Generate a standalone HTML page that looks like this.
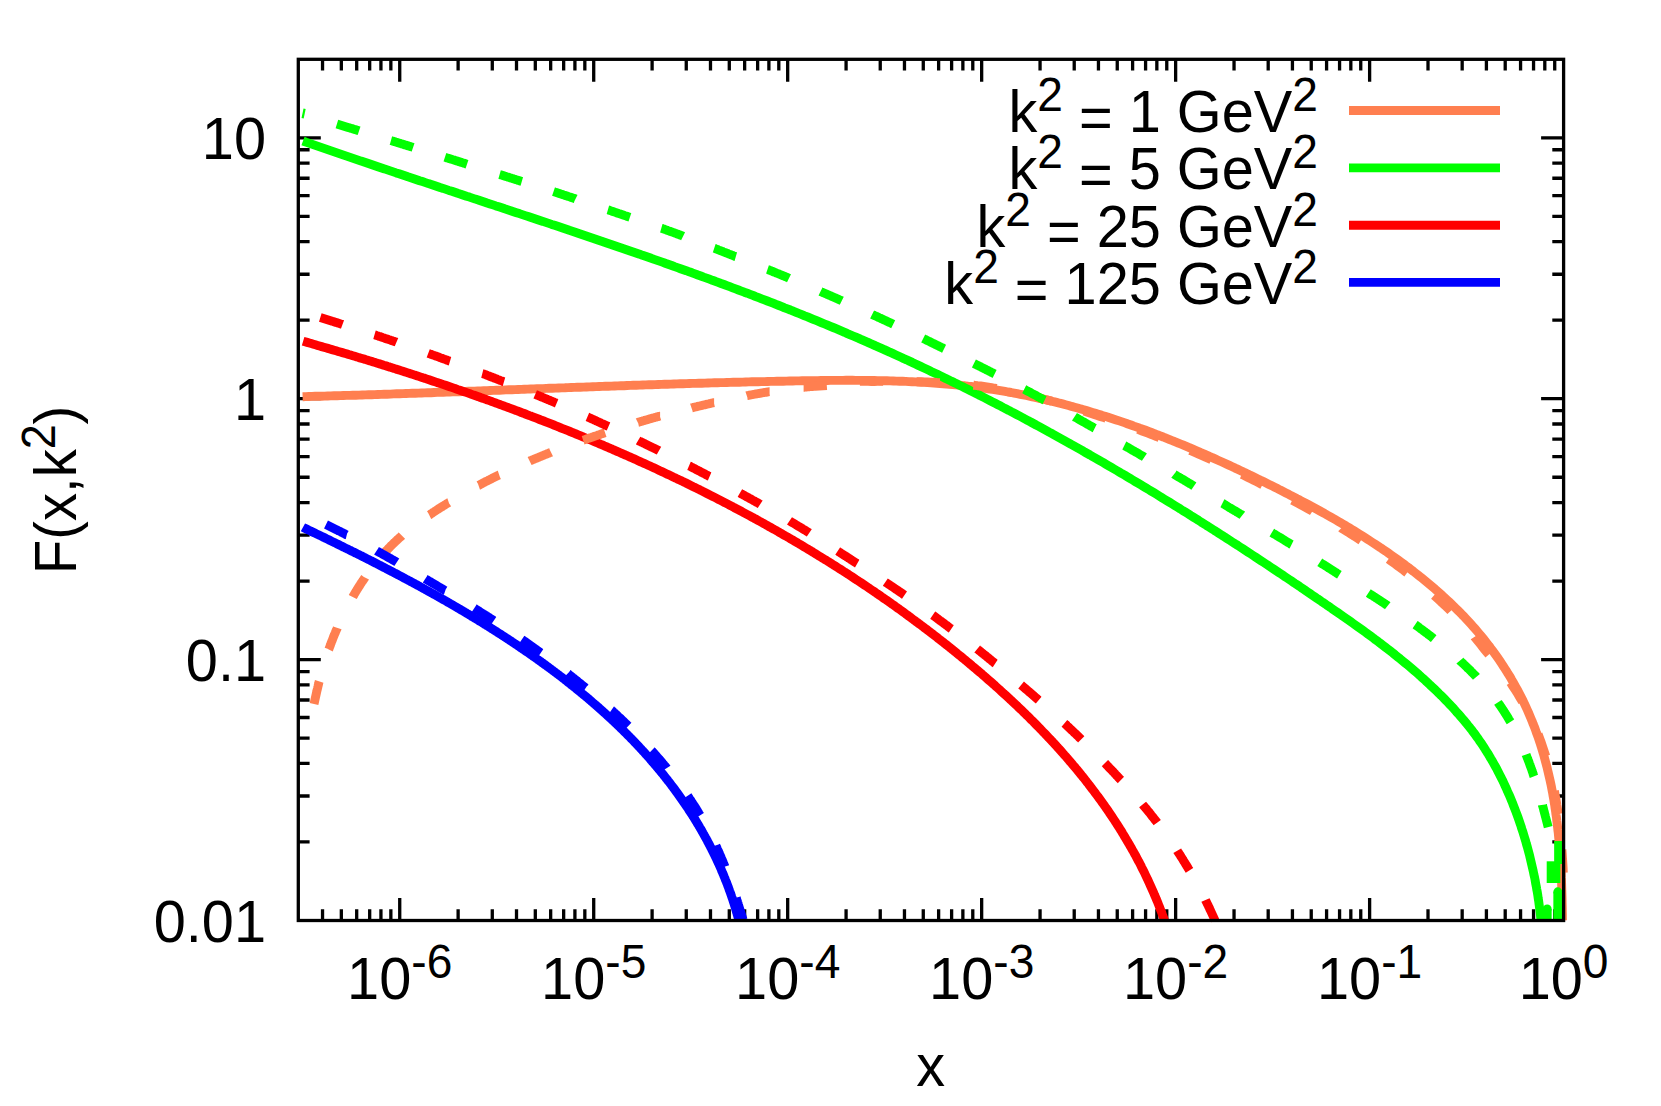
<!DOCTYPE html>
<html lang="en"><head><meta charset="utf-8"><title>F(x,k2)</title>
<style>html,body{margin:0;padding:0;background:#fff}svg{display:block}</style></head>
<body>
<svg width="1661" height="1106" viewBox="0 0 1661 1106">
<rect width="1661" height="1106" fill="#fff"/>
<path d="M322.54 920.50v-11.3M322.54 59.30v11.3M341.33 920.50v-11.3M341.33 59.30v11.3M356.69 920.50v-11.3M356.69 59.30v11.3M369.68 920.50v-11.3M369.68 59.30v11.3M380.93 920.50v-11.3M380.93 59.30v11.3M390.85 920.50v-11.3M390.85 59.30v11.3M399.73 920.50v-22.5M399.73 59.30v22.5M458.12 920.50v-11.3M458.12 59.30v11.3M492.28 920.50v-11.3M492.28 59.30v11.3M516.51 920.50v-11.3M516.51 59.30v11.3M535.31 920.50v-11.3M535.31 59.30v11.3M550.67 920.50v-11.3M550.67 59.30v11.3M563.66 920.50v-11.3M563.66 59.30v11.3M574.91 920.50v-11.3M574.91 59.30v11.3M584.83 920.50v-11.3M584.83 59.30v11.3M593.71 920.50v-22.5M593.71 59.30v22.5M652.10 920.50v-11.3M652.10 59.30v11.3M686.26 920.50v-11.3M686.26 59.30v11.3M710.49 920.50v-11.3M710.49 59.30v11.3M729.29 920.50v-11.3M729.29 59.30v11.3M744.65 920.50v-11.3M744.65 59.30v11.3M757.64 920.50v-11.3M757.64 59.30v11.3M768.89 920.50v-11.3M768.89 59.30v11.3M778.81 920.50v-11.3M778.81 59.30v11.3M787.68 920.50v-22.5M787.68 59.30v22.5M846.08 920.50v-11.3M846.08 59.30v11.3M880.24 920.50v-11.3M880.24 59.30v11.3M904.47 920.50v-11.3M904.47 59.30v11.3M923.27 920.50v-11.3M923.27 59.30v11.3M938.63 920.50v-11.3M938.63 59.30v11.3M951.62 920.50v-11.3M951.62 59.30v11.3M962.87 920.50v-11.3M962.87 59.30v11.3M972.79 920.50v-11.3M972.79 59.30v11.3M981.66 920.50v-22.5M981.66 59.30v22.5M1040.06 920.50v-11.3M1040.06 59.30v11.3M1074.22 920.50v-11.3M1074.22 59.30v11.3M1098.45 920.50v-11.3M1098.45 59.30v11.3M1117.25 920.50v-11.3M1117.25 59.30v11.3M1132.61 920.50v-11.3M1132.61 59.30v11.3M1145.59 920.50v-11.3M1145.59 59.30v11.3M1156.84 920.50v-11.3M1156.84 59.30v11.3M1166.77 920.50v-11.3M1166.77 59.30v11.3M1175.64 920.50v-22.5M1175.64 59.30v22.5M1234.04 920.50v-11.3M1234.04 59.30v11.3M1268.19 920.50v-11.3M1268.19 59.30v11.3M1292.43 920.50v-11.3M1292.43 59.30v11.3M1311.23 920.50v-11.3M1311.23 59.30v11.3M1326.59 920.50v-11.3M1326.59 59.30v11.3M1339.57 920.50v-11.3M1339.57 59.30v11.3M1350.82 920.50v-11.3M1350.82 59.30v11.3M1360.75 920.50v-11.3M1360.75 59.30v11.3M1369.62 920.50v-22.5M1369.62 59.30v22.5M1428.01 920.50v-11.3M1428.01 59.30v11.3M1462.17 920.50v-11.3M1462.17 59.30v11.3M1486.41 920.50v-11.3M1486.41 59.30v11.3M1505.21 920.50v-11.3M1505.21 59.30v11.3M1520.57 920.50v-11.3M1520.57 59.30v11.3M1533.55 920.50v-11.3M1533.55 59.30v11.3M1544.80 920.50v-11.3M1544.80 59.30v11.3M1554.72 920.50v-11.3M1554.72 59.30v11.3M298.30 841.96h11.3M1563.60 841.96h-11.3M298.30 796.02h11.3M1563.60 796.02h-11.3M298.30 763.43h11.3M1563.60 763.43h-11.3M298.30 738.15h11.3M1563.60 738.15h-11.3M298.30 717.49h11.3M1563.60 717.49h-11.3M298.30 700.02h11.3M1563.60 700.02h-11.3M298.30 684.89h11.3M1563.60 684.89h-11.3M298.30 671.55h11.3M1563.60 671.55h-11.3M298.30 659.61h22.5M1563.60 659.61h-22.5M298.30 581.08h11.3M1563.60 581.08h-11.3M298.30 535.14h11.3M1563.60 535.14h-11.3M298.30 502.54h11.3M1563.60 502.54h-11.3M298.30 477.26h11.3M1563.60 477.26h-11.3M298.30 456.60h11.3M1563.60 456.60h-11.3M298.30 439.14h11.3M1563.60 439.14h-11.3M298.30 424.01h11.3M1563.60 424.01h-11.3M298.30 410.66h11.3M1563.60 410.66h-11.3M298.30 398.72h22.5M1563.60 398.72h-22.5M298.30 320.19h11.3M1563.60 320.19h-11.3M298.30 274.25h11.3M1563.60 274.25h-11.3M298.30 241.65h11.3M1563.60 241.65h-11.3M298.30 216.37h11.3M1563.60 216.37h-11.3M298.30 195.71h11.3M1563.60 195.71h-11.3M298.30 178.25h11.3M1563.60 178.25h-11.3M298.30 163.12h11.3M1563.60 163.12h-11.3M298.30 149.77h11.3M1563.60 149.77h-11.3M298.30 137.84h22.5M1563.60 137.84h-22.5" stroke="#000" stroke-width="3.3" fill="none"/>
<g fill="none" stroke-width="8.9" stroke-linejoin="round">
<path d="M302.6 396.7L305.7 396.6L308.8 396.5L312.0 396.4L315.1 396.3L318.3 396.3L321.4 396.2L324.6 396.1L327.7 396.0L330.8 395.9L334.0 395.8L337.1 395.7L340.3 395.6L343.4 395.5L346.5 395.4L349.7 395.4L352.8 395.3L355.9 395.2L359.1 395.1L362.2 395.0L365.3 394.9L368.5 394.8L371.6 394.7L374.7 394.6L377.8 394.5L381.0 394.4L384.1 394.3L387.2 394.2L390.4 394.1L393.5 393.9L396.6 393.8L399.7 393.7L402.9 393.6L406.0 393.5L409.1 393.4L412.2 393.3L415.4 393.2L418.5 393.1L421.6 393.0L424.7 392.9L427.8 392.8L431.0 392.7L434.1 392.5L437.2 392.4L440.3 392.3L443.4 392.2L446.6 392.1L449.7 392.0L452.8 391.9L455.9 391.8L459.0 391.7L462.1 391.5L465.3 391.4L468.4 391.3L471.5 391.2L474.6 391.1L477.7 391.0L480.8 390.9L483.9 390.7L487.1 390.6L490.2 390.5L493.3 390.4L496.4 390.3L499.5 390.2L502.6 390.1L505.7 389.9L508.8 389.8L512.0 389.7L515.1 389.6L518.2 389.5L521.3 389.4L524.4 389.2L527.5 389.1L530.6 389.0L533.7 388.9L536.9 388.8L540.0 388.7L543.1 388.6L546.2 388.4L549.3 388.3L552.4 388.2L555.5 388.1L558.6 388.0L561.7 387.9L564.9 387.8L568.0 387.6L571.1 387.5L574.2 387.4L577.3 387.3L580.4 387.2L583.5 387.1L586.6 387.0L589.7 386.9L592.9 386.7L596.0 386.6L599.1 386.5L602.2 386.4L605.3 386.3L608.4 386.2L611.5 386.1L614.6 386.0L617.8 385.9L620.9 385.8L624.0 385.7L627.1 385.5L630.2 385.4L633.3 385.3L636.4 385.2L639.5 385.1L642.7 385.0L645.8 384.9L648.9 384.8L652.0 384.7L655.1 384.6L658.2 384.5L661.4 384.4L664.5 384.3L667.6 384.2L670.7 384.1L673.8 384.0L676.9 383.9L680.1 383.8L683.2 383.7L686.3 383.6L689.4 383.5L692.5 383.4L695.7 383.4L698.8 383.3L701.9 383.2L705.0 383.1L708.1 383.0L711.3 382.9L714.4 382.8L717.5 382.7L720.6 382.6L723.8 382.6L726.9 382.5L730.0 382.4L733.2 382.3L736.3 382.2L739.4 382.2L742.5 382.1L745.7 382.0L748.8 381.9L751.9 381.8L755.1 381.8L758.2 381.7L761.3 381.6L764.5 381.6L767.6 381.5L770.7 381.4L773.9 381.4L777.0 381.3L780.1 381.2L783.3 381.2L786.4 381.1L789.5 381.0L792.7 381.0L795.8 380.9L799.0 380.9L802.1 380.8L805.3 380.7L808.4 380.7L811.5 380.6L814.7 380.6L817.8 380.6L821.0 380.5L824.1 380.5L827.3 380.5L830.4 380.4L833.6 380.4L836.7 380.4L839.8 380.4L843.0 380.4L846.1 380.3L849.3 380.3L852.4 380.3L855.6 380.4L858.7 380.4L861.9 380.4L865.0 380.4L868.1 380.5L871.3 380.5L874.4 380.5L877.6 380.6L880.7 380.7L883.8 380.7L887.0 380.8L890.1 380.9L893.3 381.0L896.4 381.1L899.5 381.2L902.7 381.3L905.8 381.4L908.9 381.6L912.0 381.7L915.2 381.9L918.3 382.0L921.4 382.2L924.5 382.4L927.7 382.6L930.8 382.8L933.9 383.0L937.0 383.2L940.1 383.5L943.2 383.7L946.3 384.0L949.4 384.2L952.6 384.5L955.7 384.8L958.8 385.1L961.9 385.5L964.9 385.8L968.0 386.2L971.1 386.5L974.2 386.9L977.3 387.3L980.4 387.7L983.5 388.1L986.6 388.5L989.6 389.0L992.7 389.4L995.8 389.9L998.8 390.4L1001.9 390.9L1005.0 391.4L1008.0 392.0L1011.1 392.5L1014.1 393.1L1017.2 393.7L1020.2 394.3L1023.3 394.9L1026.3 395.5L1029.3 396.1L1032.4 396.8L1035.4 397.4L1038.4 398.1L1041.5 398.8L1044.5 399.5L1047.5 400.2L1050.5 400.9L1053.6 401.7L1056.6 402.4L1059.6 403.2L1062.6 403.9L1065.6 404.7L1068.6 405.5L1071.6 406.4L1074.6 407.2L1077.6 408.0L1080.6 408.9L1083.6 409.7L1086.5 410.6L1089.5 411.5L1092.5 412.4L1095.5 413.3L1098.4 414.2L1101.4 415.1L1104.4 416.1L1107.4 417.0L1110.3 418.0L1113.3 419.0L1116.2 419.9L1119.2 420.9L1122.1 421.9L1125.1 422.9L1128.0 424.0L1131.0 425.0L1133.9 426.1L1136.9 427.1L1139.8 428.2L1142.7 429.2L1145.7 430.3L1148.6 431.4L1151.5 432.5L1154.4 433.6L1157.3 434.8L1160.3 435.9L1163.2 437.0L1166.1 438.2L1169.0 439.3L1171.9 440.5L1174.8 441.7L1177.7 442.8L1180.6 444.0L1183.5 445.2L1186.4 446.4L1189.3 447.6L1192.2 448.9L1195.0 450.1L1197.9 451.3L1200.8 452.6L1203.7 453.8L1206.5 455.1L1209.4 456.4L1212.3 457.6L1215.1 458.9L1218.0 460.2L1220.9 461.5L1223.7 462.8L1226.6 464.1L1229.4 465.4L1232.3 466.7L1235.1 468.1L1238.0 469.4L1240.8 470.7L1243.6 472.1L1246.5 473.4L1249.3 474.8L1252.1 476.1L1255.0 477.5L1257.8 478.9L1260.6 480.3L1263.4 481.6L1266.2 483.0L1269.0 484.4L1271.9 485.8L1274.7 487.2L1277.5 488.6L1280.3 490.1L1283.1 491.5L1285.9 492.9L1288.7 494.3L1291.4 495.8L1294.2 497.2L1297.0 498.7L1299.8 500.1L1302.6 501.6L1305.3 503.0L1308.1 504.5L1310.8 506.0L1313.6 507.5L1316.4 509.0L1319.1 510.5L1321.8 512.0L1324.6 513.5L1327.3 515.1L1330.0 516.6L1332.7 518.2L1335.4 519.7L1338.2 521.3L1340.9 522.9L1343.5 524.5L1346.2 526.0L1348.9 527.6L1351.6 529.3L1354.3 530.9L1356.9 532.5L1359.6 534.2L1362.2 535.8L1364.9 537.5L1367.5 539.2L1370.1 540.9L1372.7 542.6L1375.3 544.3L1377.9 546.0L1380.5 547.7L1383.1 549.5L1385.7 551.2L1388.3 553.0L1390.8 554.8L1393.4 556.6L1395.9 558.4L1398.4 560.2L1401.0 562.1L1403.5 563.9L1406.0 565.8L1408.5 567.6L1410.9 569.5L1413.4 571.4L1415.9 573.4L1418.3 575.3L1420.8 577.2L1423.2 579.2L1425.6 581.2L1428.0 583.2L1430.4 585.2L1432.8 587.2L1435.2 589.2L1437.5 591.3L1439.9 593.4L1442.2 595.4L1444.5 597.6L1446.8 599.7L1449.1 601.8L1451.4 604.0L1453.6 606.1L1455.8 608.3L1458.0 610.5L1460.2 612.7L1462.4 615.0L1464.6 617.2L1466.7 619.5L1468.8 621.8L1470.9 624.1L1473.0 626.4L1475.1 628.8L1477.1 631.1L1479.1 633.5L1481.1 635.9L1483.1 638.3L1485.0 640.8L1486.9 643.2L1488.9 645.7L1490.7 648.2L1492.6 650.7L1494.4 653.2L1496.2 655.7L1498.0 658.2L1499.8 660.8L1501.5 663.4L1503.2 666.0L1504.9 668.6L1506.6 671.2L1508.2 673.9L1509.9 676.5L1511.4 679.2L1513.0 681.9L1514.5 684.6L1516.0 687.3L1517.5 690.0L1519.0 692.8L1520.4 695.5L1521.8 698.3L1523.2 701.1L1524.5 703.9L1525.8 706.7L1527.1 709.5L1528.4 712.4L1529.6 715.2L1530.8 718.1L1532.0 720.9L1533.1 723.8L1534.3 726.7L1535.4 729.6L1536.4 732.6L1537.5 735.5L1538.5 738.4L1539.5 741.4L1540.5 744.4L1541.4 747.3L1542.3 750.3L1543.2 753.3L1544.1 756.3L1544.9 759.3L1545.7 762.3L1546.5 765.4L1547.3 768.4L1548.0 771.4L1548.7 774.5L1549.4 777.5L1550.1 780.6L1550.8 783.7L1551.4 786.7L1552.0 789.8L1552.6 792.9L1553.1 796.0L1553.7 799.1L1554.2 802.2L1554.7 805.3L1555.1 808.4L1555.6 811.5L1556.0 814.6L1556.5 817.7L1556.8 820.8L1557.2 824.0L1557.6 827.1L1557.9 830.2L1558.3 833.3L1558.6 836.5L1558.9 839.6L1559.1 842.7L1559.4 845.9L1559.6 849.0L1559.9 852.1L1560.1 855.3L1560.3 858.4L1560.5 861.5L1560.7 864.7L1560.9 867.8L1561.0 870.9L1561.2 874.1L1561.3 877.2L1561.5 880.3L1561.6 883.4L1561.7 886.6L1561.8 889.7L1561.9 892.8L1562.0 895.9L1562.1 899.0L1562.1 902.1L1562.2 905.2L1562.3 908.3L1562.3 911.4L1562.4 914.5L1562.4 917.6L1562.5 920.5" stroke="#ff7f50"/>
<path d="M303.0 141.0L305.9 142.1L308.8 143.1L311.7 144.1L314.6 145.1L317.5 146.1L320.4 147.1L323.3 148.1L326.2 149.1L329.1 150.1L332.0 151.1L334.9 152.1L337.8 153.1L340.7 154.1L343.6 155.1L346.6 156.1L349.5 157.1L352.4 158.1L355.3 159.1L358.2 160.1L361.1 161.1L364.0 162.0L367.0 163.0L369.9 164.0L372.8 165.0L375.7 166.0L378.6 167.0L381.6 168.0L384.5 168.9L387.4 169.9L390.3 170.9L393.3 171.9L396.2 172.9L399.1 173.8L402.0 174.8L405.0 175.8L407.9 176.8L410.8 177.7L413.8 178.7L416.7 179.7L419.6 180.7L422.5 181.6L425.5 182.6L428.4 183.6L431.3 184.5L434.3 185.5L437.2 186.5L440.1 187.5L443.1 188.4L446.0 189.4L448.9 190.4L451.9 191.3L454.8 192.3L457.7 193.3L460.7 194.2L463.6 195.2L466.5 196.2L469.5 197.1L472.4 198.1L475.3 199.1L478.3 200.0L481.2 201.0L484.2 202.0L487.1 203.0L490.0 203.9L493.0 204.9L495.9 205.9L498.8 206.8L501.8 207.8L504.7 208.8L507.6 209.7L510.6 210.7L513.5 211.7L516.5 212.7L519.4 213.6L522.3 214.6L525.3 215.6L528.2 216.5L531.1 217.5L534.1 218.5L537.0 219.5L540.0 220.5L542.9 221.4L545.8 222.4L548.8 223.4L551.7 224.4L554.6 225.3L557.6 226.3L560.5 227.3L563.4 228.3L566.4 229.3L569.3 230.3L572.2 231.2L575.2 232.2L578.1 233.2L581.0 234.2L584.0 235.2L586.9 236.2L589.8 237.2L592.8 238.2L595.7 239.2L598.6 240.2L601.6 241.2L604.5 242.2L607.4 243.2L610.4 244.2L613.3 245.2L616.2 246.2L619.1 247.2L622.1 248.2L625.0 249.2L627.9 250.2L630.8 251.2L633.8 252.2L636.7 253.2L639.6 254.2L642.5 255.3L645.5 256.3L648.4 257.3L651.3 258.3L654.2 259.4L657.1 260.4L660.1 261.4L663.0 262.4L665.9 263.5L668.8 264.5L671.7 265.5L674.6 266.6L677.5 267.6L680.5 268.7L683.4 269.7L686.3 270.7L689.2 271.8L692.1 272.8L695.0 273.9L697.9 275.0L700.8 276.0L703.7 277.1L706.6 278.1L709.5 279.2L712.4 280.3L715.3 281.3L718.2 282.4L721.1 283.5L724.0 284.5L726.9 285.6L729.8 286.7L732.7 287.8L735.6 288.9L738.5 290.0L741.4 291.1L744.3 292.2L747.2 293.2L750.1 294.3L753.0 295.4L755.8 296.6L758.7 297.7L761.6 298.8L764.5 299.9L767.4 301.0L770.3 302.1L773.1 303.2L776.0 304.4L778.9 305.5L781.8 306.6L784.6 307.8L787.5 308.9L790.4 310.0L793.2 311.2L796.1 312.3L799.0 313.5L801.8 314.6L804.7 315.8L807.6 316.9L810.4 318.1L813.3 319.3L816.1 320.4L819.0 321.6L821.8 322.8L824.7 324.0L827.5 325.2L830.4 326.4L833.2 327.5L836.1 328.7L838.9 329.9L841.8 331.1L844.6 332.3L847.4 333.6L850.3 334.8L853.1 336.0L855.9 337.2L858.8 338.4L861.6 339.7L864.4 340.9L867.3 342.1L870.1 343.4L872.9 344.6L875.7 345.9L878.5 347.1L881.4 348.4L884.2 349.6L887.0 350.9L889.8 352.2L892.6 353.4L895.4 354.7L898.2 356.0L901.0 357.3L903.8 358.6L906.6 359.8L909.4 361.1L912.2 362.4L915.0 363.8L917.8 365.1L920.6 366.4L923.4 367.7L926.2 369.0L928.9 370.3L931.7 371.7L934.5 373.0L937.3 374.3L940.1 375.7L942.8 377.0L945.6 378.4L948.4 379.7L951.1 381.1L953.9 382.4L956.7 383.8L959.4 385.2L962.2 386.5L965.0 387.9L967.7 389.3L970.5 390.7L973.2 392.1L976.0 393.5L978.7 394.9L981.5 396.2L984.2 397.6L987.0 399.1L989.7 400.5L992.5 401.9L995.2 403.3L997.9 404.7L1000.7 406.1L1003.4 407.6L1006.1 409.0L1008.9 410.4L1011.6 411.9L1014.3 413.3L1017.0 414.7L1019.8 416.2L1022.5 417.6L1025.2 419.1L1027.9 420.6L1030.7 422.0L1033.4 423.5L1036.1 425.0L1038.8 426.4L1041.5 427.9L1044.2 429.4L1046.9 430.9L1049.6 432.4L1052.3 433.8L1055.0 435.3L1057.7 436.8L1060.4 438.3L1063.1 439.8L1065.8 441.3L1068.5 442.8L1071.2 444.4L1073.9 445.9L1076.6 447.4L1079.3 448.9L1082.0 450.4L1084.6 452.0L1087.3 453.5L1090.0 455.0L1092.7 456.6L1095.4 458.1L1098.0 459.6L1100.7 461.2L1103.4 462.7L1106.1 464.3L1108.7 465.8L1111.4 467.4L1114.1 469.0L1116.7 470.5L1119.4 472.1L1122.0 473.7L1124.7 475.2L1127.4 476.8L1130.0 478.4L1132.7 480.0L1135.3 481.6L1138.0 483.2L1140.6 484.7L1143.3 486.3L1145.9 487.9L1148.6 489.5L1151.2 491.1L1153.9 492.7L1156.5 494.3L1159.2 496.0L1161.8 497.6L1164.4 499.2L1167.1 500.8L1169.7 502.4L1172.3 504.0L1175.0 505.7L1177.6 507.3L1180.2 508.9L1182.8 510.6L1185.5 512.2L1188.1 513.8L1190.7 515.5L1193.3 517.1L1196.0 518.8L1198.6 520.4L1201.2 522.1L1203.8 523.7L1206.4 525.4L1209.0 527.0L1211.7 528.7L1214.3 530.4L1216.9 532.0L1219.5 533.7L1222.1 535.4L1224.7 537.0L1227.3 538.7L1229.9 540.4L1232.5 542.1L1235.1 543.8L1237.7 545.4L1240.3 547.1L1242.9 548.8L1245.5 550.5L1248.1 552.2L1250.7 553.9L1253.3 555.6L1255.8 557.3L1258.4 559.0L1261.0 560.7L1263.6 562.4L1266.2 564.1L1268.8 565.8L1271.4 567.6L1273.9 569.3L1276.5 571.0L1279.1 572.7L1281.7 574.4L1284.2 576.2L1286.8 577.9L1289.4 579.6L1292.0 581.3L1294.5 583.1L1297.1 584.8L1299.7 586.5L1302.2 588.3L1304.8 590.0L1307.4 591.8L1309.9 593.5L1312.5 595.3L1315.0 597.0L1317.6 598.8L1320.2 600.5L1322.7 602.3L1325.3 604.0L1327.8 605.8L1330.4 607.5L1332.9 609.3L1335.5 611.1L1338.0 612.8L1340.6 614.6L1343.1 616.4L1345.6 618.1L1348.2 619.9L1350.7 621.7L1353.2 623.5L1355.8 625.3L1358.3 627.1L1360.8 628.9L1363.3 630.7L1365.8 632.5L1368.3 634.4L1370.8 636.2L1373.3 638.0L1375.7 639.9L1378.2 641.7L1380.7 643.6L1383.1 645.5L1385.6 647.4L1388.0 649.2L1390.4 651.1L1392.9 653.0L1395.3 655.0L1397.7 656.9L1400.1 658.8L1402.5 660.8L1404.8 662.7L1407.2 664.7L1409.6 666.7L1411.9 668.7L1414.2 670.7L1416.6 672.7L1418.9 674.7L1421.2 676.8L1423.5 678.8L1425.7 680.9L1428.0 683.0L1430.2 685.1L1432.5 687.2L1434.7 689.3L1436.9 691.4L1439.1 693.6L1441.3 695.7L1443.5 697.9L1445.6 700.1L1447.7 702.3L1449.9 704.6L1452.0 706.8L1454.1 709.1L1456.1 711.4L1458.2 713.7L1460.2 716.0L1462.2 718.3L1464.2 720.7L1466.2 723.1L1468.1 725.5L1470.1 727.9L1472.0 730.3L1473.8 732.8L1475.7 735.3L1477.5 737.8L1479.2 740.3L1481.0 742.8L1482.7 745.4L1484.4 748.0L1486.0 750.6L1487.7 753.2L1489.3 755.8L1490.8 758.5L1492.4 761.1L1493.9 763.8L1495.4 766.5L1496.9 769.2L1498.3 772.0L1499.7 774.7L1501.1 777.5L1502.5 780.2L1503.8 783.0L1505.1 785.8L1506.4 788.6L1507.6 791.5L1508.9 794.3L1510.1 797.1L1511.3 800.0L1512.5 802.9L1513.6 805.8L1514.7 808.6L1515.8 811.5L1516.9 814.4L1518.0 817.4L1519.0 820.3L1520.0 823.2L1521.0 826.1L1521.9 829.1L1522.9 832.0L1523.8 835.0L1524.7 838.0L1525.6 840.9L1526.4 843.9L1527.3 846.9L1528.1 849.9L1528.9 852.9L1529.7 855.9L1530.4 858.9L1531.1 861.9L1531.8 864.9L1532.5 867.9L1533.2 871.0L1533.8 874.0L1534.5 877.0L1535.1 880.0L1535.6 883.1L1536.2 886.1L1536.7 889.1L1537.3 892.2L1537.8 895.2L1538.2 898.3L1538.7 901.3L1539.1 904.4L1539.5 907.4L1539.9 910.4L1540.3 913.5L1540.6 916.5L1540.9 919.6L1541.0 920.5" stroke="#00ff00"/>
<path d="M1547.2 920.5V909" stroke="#00ff00"/><circle cx="1547.2" cy="909" r="4.45" fill="#00ff00" stroke="none"/>
<path d="M303.1 341.2L305.1 341.8L307.2 342.4L309.3 343.0L311.3 343.6L313.4 344.2L315.5 344.8L317.5 345.4L319.6 346.0L321.7 346.6L323.7 347.2L325.8 347.8L327.9 348.4L329.9 349.0L332.0 349.6L334.1 350.2L336.2 350.8L338.2 351.4L340.3 352.0L342.4 352.6L344.4 353.2L346.5 353.8L348.6 354.5L350.6 355.1L352.7 355.7L354.8 356.3L356.8 356.9L358.9 357.6L361.0 358.2L363.0 358.8L365.1 359.4L367.2 360.1L369.2 360.7L371.3 361.3L373.4 362.0L375.4 362.6L377.5 363.3L379.6 363.9L381.6 364.5L383.7 365.2L385.8 365.8L387.8 366.5L389.9 367.1L392.0 367.8L394.0 368.4L396.1 369.1L398.2 369.7L400.2 370.4L402.3 371.1L404.3 371.7L406.4 372.4L408.5 373.1L410.5 373.7L412.6 374.4L414.7 375.1L416.7 375.7L418.8 376.4L420.8 377.1L422.9 377.8L425.0 378.4L427.0 379.1L429.1 379.8L431.1 380.5L433.2 381.2L435.3 381.9L437.3 382.6L439.4 383.2L441.4 383.9L443.5 384.6L445.6 385.3L447.6 386.0L449.7 386.7L451.7 387.4L453.8 388.1L455.8 388.8L457.9 389.6L459.9 390.3L462.0 391.0L464.1 391.7L466.1 392.4L468.2 393.1L470.2 393.8L472.3 394.6L474.3 395.3L476.4 396.0L478.4 396.7L480.5 397.5L482.5 398.2L484.6 398.9L486.6 399.7L488.7 400.4L490.7 401.1L492.7 401.9L494.8 402.6L496.8 403.4L498.9 404.1L500.9 404.9L503.0 405.6L505.0 406.4L507.1 407.1L509.1 407.9L511.1 408.6L513.2 409.4L515.2 410.2L517.3 410.9L519.3 411.7L521.3 412.5L523.4 413.2L525.4 414.0L527.4 414.8L529.5 415.6L531.5 416.3L533.5 417.1L535.6 417.9L537.6 418.7L539.6 419.5L541.7 420.3L543.7 421.0L545.7 421.8L547.8 422.6L549.8 423.4L551.8 424.2L553.8 425.0L555.9 425.8L557.9 426.6L559.9 427.5L561.9 428.3L564.0 429.1L566.0 429.9L568.0 430.7L570.0 431.5L572.0 432.3L574.1 433.2L576.1 434.0L578.1 434.8L580.1 435.6L582.1 436.5L584.1 437.3L586.1 438.2L588.2 439.0L590.2 439.8L592.2 440.7L594.2 441.5L596.2 442.4L598.2 443.2L600.2 444.1L602.2 444.9L604.2 445.8L606.2 446.6L608.2 447.5L610.2 448.4L612.2 449.2L614.2 450.1L616.2 451.0L618.2 451.8L620.2 452.7L622.2 453.6L624.2 454.5L626.2 455.3L628.2 456.2L630.2 457.1L632.2 458.0L634.2 458.9L636.2 459.8L638.1 460.7L640.1 461.6L642.1 462.5L644.1 463.4L646.1 464.3L648.1 465.2L650.0 466.1L652.0 467.0L654.0 467.9L656.0 468.8L657.9 469.7L659.9 470.7L661.9 471.6L663.9 472.5L665.8 473.4L667.8 474.4L669.8 475.3L671.7 476.2L673.7 477.2L675.7 478.1L677.6 479.1L679.6 480.0L681.6 480.9L683.5 481.9L685.5 482.8L687.4 483.8L689.4 484.8L691.3 485.7L693.3 486.7L695.3 487.6L697.2 488.6L699.2 489.6L701.1 490.6L703.0 491.5L705.0 492.5L706.9 493.5L708.9 494.5L710.8 495.4L712.8 496.4L714.7 497.4L716.6 498.4L718.6 499.4L720.5 500.4L722.4 501.4L724.4 502.4L726.3 503.4L728.2 504.4L730.2 505.4L732.1 506.4L734.0 507.5L735.9 508.5L737.9 509.5L739.8 510.5L741.7 511.5L743.6 512.6L745.5 513.6L747.4 514.6L749.4 515.7L751.3 516.7L753.2 517.7L755.1 518.8L757.0 519.8L758.9 520.9L760.8 521.9L762.7 523.0L764.6 524.0L766.5 525.1L768.4 526.2L770.3 527.2L772.2 528.3L774.1 529.4L776.0 530.4L777.9 531.5L779.7 532.6L781.6 533.7L783.5 534.8L785.4 535.9L787.3 536.9L789.2 538.0L791.0 539.1L792.9 540.2L794.8 541.3L796.7 542.4L798.5 543.5L800.4 544.6L802.3 545.8L804.1 546.9L806.0 548.0L807.9 549.1L809.7 550.2L811.6 551.3L813.4 552.5L815.3 553.6L817.1 554.7L819.0 555.9L820.8 557.0L822.7 558.2L824.5 559.3L826.4 560.4L828.2 561.6L830.1 562.8L831.9 563.9L833.7 565.1L835.6 566.2L837.4 567.4L839.2 568.6L841.1 569.7L842.9 570.9L844.7 572.1L846.6 573.3L848.4 574.4L850.2 575.6L852.0 576.8L853.8 578.0L855.6 579.2L857.5 580.4L859.3 581.6L861.1 582.8L862.9 584.0L864.7 585.2L866.5 586.4L868.3 587.6L870.1 588.9L871.9 590.1L873.7 591.3L875.5 592.5L877.3 593.8L879.1 595.0L880.8 596.2L882.6 597.5L884.4 598.7L886.2 599.9L888.0 601.2L889.7 602.4L891.5 603.7L893.3 604.9L895.1 606.2L896.8 607.5L898.6 608.7L900.4 610.0L902.1 611.3L903.9 612.5L905.6 613.8L907.4 615.1L909.1 616.4L910.9 617.7L912.6 619.0L914.4 620.3L916.1 621.6L917.9 622.9L919.6 624.2L921.4 625.5L923.1 626.8L924.8 628.1L926.6 629.4L928.3 630.7L930.0 632.0L931.7 633.4L933.5 634.7L935.2 636.0L936.9 637.3L938.6 638.7L940.3 640.0L942.0 641.4L943.8 642.7L945.5 644.1L947.2 645.4L948.9 646.8L950.6 648.1L952.3 649.5L954.0 650.9L955.7 652.2L957.3 653.6L959.0 655.0L960.7 656.3L962.4 657.7L964.1 659.1L965.8 660.5L967.4 661.9L969.1 663.3L970.8 664.7L972.4 666.1L974.1 667.5L975.8 668.9L977.4 670.3L979.1 671.7L980.8 673.1L982.4 674.6L984.1 676.0L985.7 677.4L987.3 678.8L989.0 680.3L990.6 681.7L992.3 683.2L993.9 684.6L995.5 686.1L997.1 687.5L998.8 689.0L1000.4 690.4L1002.0 691.9L1003.6 693.4L1005.2 694.8L1006.8 696.3L1008.4 697.8L1010.0 699.3L1011.6 700.7L1013.2 702.2L1014.8 703.7L1016.4 705.2L1017.9 706.7L1019.5 708.2L1021.1 709.7L1022.6 711.2L1024.2 712.8L1025.8 714.3L1027.3 715.8L1028.9 717.3L1030.4 718.9L1032.0 720.4L1033.5 721.9L1035.0 723.5L1036.5 725.0L1038.1 726.6L1039.6 728.1L1041.1 729.7L1042.6 731.3L1044.1 732.8L1045.6 734.4L1047.1 736.0L1048.6 737.6L1050.1 739.1L1051.6 740.7L1053.0 742.3L1054.5 743.9L1056.0 745.5L1057.4 747.1L1058.9 748.7L1060.3 750.3L1061.8 752.0L1063.2 753.6L1064.6 755.2L1066.1 756.8L1067.5 758.5L1068.9 760.1L1070.3 761.8L1071.7 763.4L1073.1 765.1L1074.5 766.7L1075.9 768.4L1077.3 770.0L1078.6 771.7L1080.0 773.4L1081.4 775.1L1082.7 776.8L1084.1 778.4L1085.4 780.1L1086.7 781.8L1088.1 783.5L1089.4 785.3L1090.7 787.0L1092.0 788.7L1093.3 790.4L1094.6 792.1L1095.9 793.9L1097.2 795.6L1098.5 797.3L1099.8 799.1L1101.0 800.8L1102.3 802.6L1103.5 804.3L1104.8 806.1L1106.0 807.9L1107.3 809.7L1108.5 811.4L1109.7 813.2L1110.9 815.0L1112.1 816.8L1113.3 818.6L1114.5 820.4L1115.7 822.2L1116.8 824.0L1118.0 825.8L1119.2 827.7L1120.3 829.5L1121.5 831.3L1122.6 833.2L1123.7 835.0L1124.8 836.9L1125.9 838.7L1127.0 840.6L1128.1 842.4L1129.2 844.3L1130.3 846.2L1131.4 848.1L1132.4 850.0L1133.5 851.8L1134.5 853.7L1135.6 855.6L1136.6 857.6L1137.6 859.5L1138.7 861.4L1139.7 863.3L1140.7 865.2L1141.6 867.2L1142.6 869.1L1143.6 871.1L1144.6 873.0L1145.5 875.0L1146.4 876.9L1147.4 878.9L1148.3 880.9L1149.2 882.8L1150.1 884.8L1151.0 886.8L1151.9 888.8L1152.8 890.8L1153.7 892.8L1154.5 894.8L1155.4 896.8L1156.2 898.9L1157.1 900.9L1157.9 902.9L1158.7 905.0L1159.5 907.0L1160.3 909.1L1161.1 911.1L1161.9 913.2L1162.6 915.3L1163.4 917.3L1164.2 919.4L1164.5 920.5" stroke="#ff0000"/>
<path d="M302.9 527.3L304.0 527.9L305.1 528.4L306.2 528.9L307.3 529.4L308.4 530.0L309.5 530.5L310.6 531.0L311.7 531.6L312.8 532.1L313.9 532.6L315.0 533.1L316.1 533.7L317.2 534.2L318.3 534.7L319.4 535.3L320.5 535.8L321.6 536.3L322.7 536.9L323.8 537.4L324.9 537.9L326.0 538.5L327.1 539.0L328.2 539.5L329.3 540.1L330.4 540.6L331.5 541.2L332.6 541.7L333.7 542.2L334.8 542.8L335.9 543.3L337.0 543.9L338.1 544.4L339.2 544.9L340.3 545.5L341.4 546.0L342.5 546.6L343.6 547.1L344.7 547.7L345.8 548.2L346.9 548.7L348.0 549.3L349.1 549.8L350.2 550.4L351.3 550.9L352.5 551.5L353.6 552.0L354.7 552.6L355.8 553.1L356.9 553.7L358.0 554.2L359.1 554.8L360.2 555.3L361.3 555.9L362.4 556.4L363.5 557.0L364.6 557.5L365.7 558.1L366.8 558.7L367.9 559.2L369.0 559.8L370.1 560.3L371.2 560.9L372.3 561.4L373.4 562.0L374.5 562.6L375.6 563.1L376.7 563.7L377.7 564.3L378.8 564.8L379.9 565.4L381.0 565.9L382.1 566.5L383.2 567.1L384.3 567.6L385.4 568.2L386.5 568.8L387.6 569.4L388.7 569.9L389.8 570.5L390.9 571.1L392.0 571.6L393.1 572.2L394.2 572.8L395.3 573.4L396.4 573.9L397.5 574.5L398.6 575.1L399.7 575.7L400.8 576.2L401.9 576.8L402.9 577.4L404.0 578.0L405.1 578.6L406.2 579.2L407.3 579.7L408.4 580.3L409.5 580.9L410.6 581.5L411.7 582.1L412.8 582.7L413.9 583.3L414.9 583.8L416.0 584.4L417.1 585.0L418.2 585.6L419.3 586.2L420.4 586.8L421.5 587.4L422.6 588.0L423.6 588.6L424.7 589.2L425.8 589.8L426.9 590.4L428.0 591.0L429.1 591.6L430.1 592.2L431.2 592.8L432.3 593.4L433.4 594.0L434.5 594.6L435.6 595.2L436.6 595.8L437.7 596.4L438.8 597.0L439.9 597.7L441.0 598.3L442.0 598.9L443.1 599.5L444.2 600.1L445.3 600.7L446.3 601.3L447.4 602.0L448.5 602.6L449.6 603.2L450.6 603.8L451.7 604.4L452.8 605.1L453.9 605.7L454.9 606.3L456.0 606.9L457.1 607.6L458.1 608.2L459.2 608.8L460.3 609.5L461.4 610.1L462.4 610.7L463.5 611.3L464.6 612.0L465.6 612.6L466.7 613.3L467.8 613.9L468.8 614.5L469.9 615.2L471.0 615.8L472.0 616.5L473.1 617.1L474.1 617.7L475.2 618.4L476.3 619.0L477.3 619.7L478.4 620.3L479.4 621.0L480.5 621.6L481.6 622.3L482.6 622.9L483.7 623.6L484.7 624.3L485.8 624.9L486.8 625.6L487.9 626.2L488.9 626.9L490.0 627.5L491.0 628.2L492.1 628.9L493.1 629.5L494.2 630.2L495.2 630.9L496.3 631.5L497.3 632.2L498.4 632.9L499.4 633.6L500.5 634.2L501.5 634.9L502.6 635.6L503.6 636.3L504.6 636.9L505.7 637.6L506.7 638.3L507.8 639.0L508.8 639.7L509.8 640.4L510.9 641.0L511.9 641.7L513.0 642.4L514.0 643.1L515.0 643.8L516.1 644.5L517.1 645.2L518.1 645.9L519.2 646.6L520.2 647.3L521.2 648.0L522.2 648.7L523.3 649.4L524.3 650.1L525.3 650.8L526.3 651.5L527.4 652.2L528.4 652.9L529.4 653.6L530.4 654.3L531.4 655.1L532.5 655.8L533.5 656.5L534.5 657.2L535.5 657.9L536.5 658.6L537.5 659.4L538.6 660.1L539.6 660.8L540.6 661.5L541.6 662.3L542.6 663.0L543.6 663.7L544.6 664.5L545.6 665.2L546.6 665.9L547.6 666.7L548.6 667.4L549.6 668.1L550.6 668.9L551.6 669.6L552.6 670.4L553.6 671.1L554.6 671.9L555.6 672.6L556.6 673.4L557.6 674.1L558.6 674.9L559.6 675.6L560.6 676.4L561.5 677.1L562.5 677.9L563.5 678.6L564.5 679.4L565.5 680.2L566.5 680.9L567.4 681.7L568.4 682.5L569.4 683.2L570.4 684.0L571.3 684.8L572.3 685.5L573.3 686.3L574.2 687.1L575.2 687.9L576.2 688.7L577.1 689.4L578.1 690.2L579.1 691.0L580.0 691.8L581.0 692.6L581.9 693.4L582.9 694.2L583.9 695.0L584.8 695.7L585.8 696.5L586.7 697.3L587.7 698.1L588.6 698.9L589.5 699.7L590.5 700.5L591.4 701.3L592.4 702.2L593.3 703.0L594.2 703.8L595.2 704.6L596.1 705.4L597.0 706.2L598.0 707.0L598.9 707.9L599.8 708.7L600.8 709.5L601.7 710.3L602.6 711.1L603.5 712.0L604.4 712.8L605.4 713.6L606.3 714.5L607.2 715.3L608.1 716.1L609.0 717.0L609.9 717.8L610.8 718.7L611.7 719.5L612.6 720.3L613.5 721.2L614.4 722.0L615.3 722.9L616.2 723.7L617.1 724.6L618.0 725.4L618.9 726.3L619.8 727.2L620.6 728.0L621.5 728.9L622.4 729.7L623.3 730.6L624.2 731.5L625.0 732.3L625.9 733.2L626.8 734.1L627.7 735.0L628.5 735.8L629.4 736.7L630.3 737.6L631.1 738.5L632.0 739.4L632.8 740.2L633.7 741.1L634.5 742.0L635.4 742.9L636.2 743.8L637.1 744.7L637.9 745.6L638.8 746.5L639.6 747.4L640.4 748.3L641.3 749.2L642.1 750.1L642.9 751.0L643.8 751.9L644.6 752.8L645.4 753.7L646.2 754.7L647.1 755.6L647.9 756.5L648.7 757.4L649.5 758.3L650.3 759.3L651.1 760.2L651.9 761.1L652.7 762.1L653.5 763.0L654.3 763.9L655.1 764.9L655.9 765.8L656.7 766.7L657.5 767.7L658.3 768.6L659.1 769.6L659.9 770.5L660.6 771.5L661.4 772.4L662.2 773.4L663.0 774.3L663.7 775.3L664.5 776.2L665.3 777.2L666.0 778.2L666.8 779.1L667.6 780.1L668.3 781.1L669.1 782.0L669.8 783.0L670.6 784.0L671.3 785.0L672.0 786.0L672.8 786.9L673.5 787.9L674.3 788.9L675.0 789.9L675.7 790.9L676.4 791.9L677.2 792.9L677.9 793.9L678.6 794.9L679.3 795.9L680.0 796.9L680.7 797.9L681.4 798.9L682.1 799.9L682.8 800.9L683.5 801.9L684.2 802.9L684.9 803.9L685.6 804.9L686.3 806.0L687.0 807.0L687.7 808.0L688.4 809.0L689.0 810.1L689.7 811.1L690.4 812.1L691.0 813.1L691.7 814.2L692.4 815.2L693.0 816.3L693.7 817.3L694.3 818.3L695.0 819.4L695.6 820.4L696.3 821.5L696.9 822.5L697.5 823.6L698.2 824.6L698.8 825.7L699.4 826.8L700.0 827.8L700.7 828.9L701.3 829.9L701.9 831.0L702.5 832.1L703.1 833.2L703.7 834.2L704.3 835.3L704.9 836.4L705.5 837.5L706.1 838.5L706.7 839.6L707.3 840.7L707.8 841.8L708.4 842.9L709.0 844.0L709.6 845.1L710.1 846.2L710.7 847.3L711.3 848.4L711.8 849.5L712.4 850.6L712.9 851.7L713.5 852.8L714.0 853.9L714.6 855.0L715.1 856.1L715.6 857.2L716.2 858.3L716.7 859.5L717.2 860.6L717.7 861.7L718.2 862.8L718.8 864.0L719.3 865.1L719.8 866.2L720.3 867.4L720.8 868.5L721.3 869.6L721.7 870.8L722.2 871.9L722.7 873.1L723.2 874.2L723.7 875.3L724.1 876.5L724.6 877.6L725.1 878.8L725.5 880.0L726.0 881.1L726.5 882.3L726.9 883.4L727.4 884.6L727.8 885.8L728.2 886.9L728.7 888.1L729.1 889.3L729.5 890.5L729.9 891.6L730.4 892.8L730.8 894.0L731.2 895.2L731.6 896.4L732.0 897.5L732.4 898.7L732.8 899.9L733.2 901.1L733.6 902.3L734.0 903.5L734.3 904.7L734.7 905.9L735.1 907.1L735.5 908.3L735.8 909.5L736.2 910.7L736.5 912.0L736.9 913.2L737.2 914.4L737.6 915.6L737.9 916.8L738.3 918.0L738.6 919.3L738.9 920.5L738.9 920.5" stroke="#0000ff"/>
<path d="M314.0 704.0L316.5 692.7L316.7 691.9L316.9 691.0L317.1 690.2L317.3 689.3L317.5 688.5L317.7 687.6L317.9 686.8L318.1 685.9L318.3 685.1L318.5 684.2L318.7 683.4L318.9 682.5L319.1 681.7L319.2 681.4M328.8 649.4L328.9 649.2L329.2 648.3L329.5 647.5L329.8 646.7L330.1 645.9L330.4 645.1L330.7 644.2L331.0 643.4L331.3 642.6L331.6 641.8L331.9 641.0L332.3 640.2L332.6 639.3L332.9 638.5L333.2 637.7L333.5 636.9L333.8 636.1L334.2 635.3L334.5 634.5L334.8 633.7L335.2 632.9L335.5 632.1L335.8 631.3L336.2 630.5L336.5 629.7L336.9 628.9L337.2 628.1L337.3 627.8M352.7 597.1L352.8 596.9L353.2 596.1L353.7 595.4L354.1 594.6L354.5 593.9L355.0 593.1L355.4 592.4L355.9 591.6L356.3 590.9L356.8 590.1L357.2 589.4L357.7 588.6L358.2 587.9L358.6 587.2L359.1 586.4L359.6 585.7L360.0 585.0L360.5 584.2L361.0 583.5L361.4 582.7L361.9 582.0L362.4 581.3L362.9 580.6L363.4 579.8L363.9 579.1L364.4 578.4L364.9 577.7L365.0 577.5M385.2 551.9L385.4 551.7L386.0 551.0L386.6 550.4L387.2 549.8L387.8 549.1L388.4 548.5L389.0 547.9L389.6 547.3L390.2 546.6L390.8 546.0L391.5 545.4L392.1 544.8L392.7 544.2L393.3 543.6L393.9 543.0L394.6 542.4L395.2 541.8L395.8 541.2L396.5 540.6L397.1 540.0L397.8 539.4L398.4 538.8L399.0 538.2L399.7 537.6L400.3 537.1L401.0 536.5L401.7 535.9L401.9 535.7M429.2 515.0L429.4 514.9L430.2 514.4L430.9 513.9L431.6 513.4L432.4 512.9L433.1 512.4L433.8 512.0L434.5 511.5L435.3 511.0L436.0 510.5L436.7 510.1L437.5 509.6L438.2 509.1L438.9 508.6L439.7 508.2L440.4 507.7L441.1 507.2L441.9 506.8L442.6 506.3L443.4 505.8L444.1 505.4L444.8 504.9L445.6 504.4L446.3 504.0L447.1 503.5L447.8 503.1L448.5 502.6L448.8 502.5M478.5 485.4L478.8 485.3L479.5 484.9L480.3 484.5L481.1 484.1L481.8 483.7L482.6 483.3L483.4 482.8L484.1 482.4L484.9 482.0L485.7 481.6L486.5 481.2L487.2 480.8L488.0 480.5L488.8 480.1L489.6 479.7L490.3 479.3L491.1 478.9L491.9 478.5L492.7 478.1L493.4 477.7L494.2 477.3L495.0 476.9L495.8 476.5L496.6 476.2L497.4 475.8L498.1 475.4L498.9 475.0L499.2 474.9M529.6 461.1L529.8 461.0L530.6 460.6L531.4 460.3L532.2 459.9L533.0 459.6L533.8 459.3L534.6 458.9L535.4 458.6L536.3 458.3L537.1 457.9L537.9 457.6L538.7 457.3L539.5 456.9L540.3 456.6L541.1 456.3L541.9 455.9L542.7 455.6L543.5 455.3L544.3 454.9L545.1 454.6L545.9 454.3L546.7 454.0L547.5 453.7L548.4 453.3L549.2 453.0L550.0 452.7L550.8 452.4L551.0 452.3M583.1 440.3L583.4 440.2L584.2 439.9L585.0 439.6L585.9 439.3L586.7 439.0L587.5 438.7L588.3 438.4L589.1 438.1L590.0 437.9L590.8 437.6L591.6 437.3L592.4 437.0L593.3 436.7L594.1 436.4L594.9 436.2L595.7 435.9L596.6 435.6L597.4 435.3L598.2 435.0L599.0 434.8L599.9 434.5L600.7 434.2L601.5 433.9L602.3 433.6L603.2 433.4L604.0 433.1L604.8 432.8L605.1 432.7M637.8 422.4L638.0 422.3L638.9 422.1L639.7 421.8L640.5 421.6L641.4 421.4L642.2 421.1L643.0 420.9L643.9 420.6L644.7 420.4L645.5 420.1L646.4 419.9L647.2 419.7L648.1 419.4L648.9 419.2L649.7 418.9L650.6 418.7L651.4 418.5L652.2 418.2L653.1 418.0L653.9 417.8L654.8 417.5L655.6 417.3L656.4 417.1L657.3 416.8L658.1 416.6L658.9 416.4L659.8 416.1L660.1 416.1M691.5 407.9L691.8 407.8L692.7 407.6L693.5 407.4L694.4 407.2L695.2 407.0L696.0 406.8L696.9 406.6L697.7 406.4L698.6 406.2L699.4 406.0L700.3 405.8L701.1 405.6L702.0 405.4L702.8 405.2L703.7 405.0L704.5 404.8L705.4 404.6L706.2 404.4L707.1 404.2L707.9 404.0L708.8 403.8L709.6 403.6L710.5 403.4L711.3 403.2L712.2 403.0L713.0 402.8L713.9 402.6L714.1 402.6M746.8 395.7L747.1 395.6L747.9 395.5L748.8 395.3L749.6 395.1L750.5 395.0L751.4 394.8L752.2 394.7L753.1 394.5L753.9 394.3L754.8 394.2L755.6 394.0L756.5 393.9L757.3 393.7L758.2 393.6L759.1 393.4L759.9 393.3L760.8 393.1L761.6 393.0L762.5 392.8L763.4 392.7L764.2 392.5L765.1 392.4L765.9 392.3L766.8 392.1L767.6 392.0L768.5 391.8L769.4 391.7L769.6 391.7M803.6 387.3L803.9 387.3L804.8 387.2L805.6 387.1L806.5 387.0L807.4 386.9L808.2 386.9L809.1 386.8L810.0 386.7L810.8 386.6L811.7 386.6L812.6 386.5L813.5 386.4L814.3 386.4L815.2 386.3L826.8 385.5M859.9 381.3L861.9 381.3L865.0 381.4L868.1 381.4L871.3 381.5L874.4 381.5L877.5 381.4L880.7 381.4L883.1 381.4M916.7 381.7L918.3 381.7L921.4 381.8L924.6 381.9L927.7 382.0L930.8 382.1L933.9 382.3L937.1 382.5L939.9 382.6M973.4 385.2L974.4 385.3L977.5 385.7L980.6 386.0L983.7 386.4L986.8 386.8L989.9 387.3L992.9 387.9L996.0 388.4L996.5 388.5M1029.4 395.5L1029.5 395.5L1032.5 396.2L1035.5 397.0L1038.5 397.7L1041.5 398.5L1044.5 399.3L1047.5 400.1L1050.5 400.9L1051.9 401.3M1084.0 411.1L1086.2 411.8L1089.1 412.8L1092.1 413.8L1095.0 414.8L1098.0 415.7L1100.9 416.7L1103.9 417.6L1106.0 418.3M1137.7 429.4L1139.2 429.9L1142.1 431.0L1145.0 432.1L1147.9 433.2L1150.8 434.3L1153.7 435.4L1156.6 436.6L1159.3 437.6M1190.3 450.4L1191.3 450.9L1194.2 452.1L1197.0 453.3L1199.9 454.6L1202.8 455.9L1205.6 457.2L1208.5 458.5L1211.3 459.8L1211.4 459.9M1241.7 474.3L1242.4 474.6L1245.2 476.0L1248.0 477.4L1250.8 478.8L1253.6 480.2L1256.4 481.6L1259.2 483.0L1262.0 484.5L1262.4 484.7M1292.2 500.2L1292.6 500.4L1295.3 501.9L1298.1 503.4L1300.8 504.9L1303.6 506.4L1306.3 507.9L1309.0 509.4L1311.8 510.9L1312.4 511.3M1341.3 528.1L1341.4 528.2L1344.0 529.8L1346.7 531.4L1349.3 533.0L1351.9 534.7L1354.6 536.3L1357.2 538.0L1359.8 539.7L1360.9 540.4M1388.5 559.1L1390.5 560.6L1393.0 562.4L1395.5 564.2L1398.0 566.1L1400.5 567.9L1403.0 569.8L1405.4 571.7L1407.0 572.9M1434.0 595.4L1436.3 597.4L1438.6 599.5L1440.8 601.6L1443.1 603.7L1445.3 605.8L1447.6 607.9L1449.8 610.1L1450.7 611.1M1474.5 636.9L1474.7 637.2L1476.7 639.6L1478.6 641.9L1480.5 644.3L1482.4 646.8L1484.3 649.2L1486.2 651.6L1488.2 653.9L1488.8 654.6M1510.4 682.5L1510.8 683.1L1512.5 685.7L1514.2 688.3L1515.9 690.9L1517.5 693.5L1519.1 696.2L1520.7 698.8L1522.3 701.5L1522.6 702.1M1538.1 734.2L1538.5 735.2L1539.6 738.1L1540.7 741.0L1541.7 744.0L1542.7 746.9L1543.7 749.9L1544.7 752.9L1545.7 755.9L1545.8 756.2M1554.4 790.9L1554.7 792.5L1555.3 795.6L1555.8 798.7L1556.4 801.8L1556.8 804.9L1557.3 808.0L1557.8 811.2L1558.2 813.9M1561.9 849.5L1562.1 852.0L1562.3 855.1L1562.5 858.3L1562.7 861.4L1562.9 864.5L1563.1 867.7L1563.2 870.8L1563.3 872.7" stroke="#ff7f50"/>
<path d="M336.9 124.0L348.0 127.4L348.9 127.7L349.7 127.9L350.6 128.2L351.5 128.5L352.4 128.7L353.2 129.0L354.1 129.3L355.0 129.5L355.8 129.8L356.7 130.1L357.6 130.3L358.5 130.6L359.1 130.8M390.9 140.6L391.6 140.8L392.4 141.0L393.3 141.3L394.2 141.6L395.0 141.8L395.9 142.1L396.8 142.4L397.7 142.6L398.5 142.9L399.4 143.2L400.3 143.4L401.1 143.7L402.0 144.0L402.9 144.2L403.8 144.5L404.6 144.8L405.5 145.0L406.4 145.3L407.2 145.6L408.1 145.8L409.0 146.1L409.8 146.4L410.7 146.6L411.6 146.9L412.5 147.2L413.1 147.4M444.9 157.2L445.5 157.4L446.4 157.7L447.3 158.0L448.1 158.2L449.0 158.5L449.9 158.8L450.8 159.1L451.6 159.3L452.5 159.6L453.4 159.9L454.2 160.2L455.1 160.4L456.0 160.7L456.8 161.0L457.7 161.2L458.6 161.5L459.4 161.8L460.3 162.1L461.2 162.3L462.1 162.6L462.9 162.9L463.8 163.2L464.7 163.4L465.5 163.7L466.4 164.0L467.0 164.2M499.6 174.5L500.3 174.7L501.1 175.0L502.0 175.2L502.9 175.5L503.8 175.8L504.6 176.1L505.5 176.3L506.4 176.6L507.2 176.9L508.1 177.2L509.0 177.4L509.8 177.7L510.7 178.0L511.6 178.3L512.4 178.5L513.3 178.8L514.2 179.1L515.0 179.4L515.9 179.6L516.8 179.9L517.7 180.2L518.5 180.5L519.4 180.7L520.3 181.0L521.1 181.3L521.8 181.5M553.5 191.6L554.1 191.8L555.0 192.1L555.9 192.4L556.7 192.7L557.6 192.9L558.5 193.2L559.3 193.5L560.2 193.8L561.1 194.1L561.9 194.4L562.8 194.6L563.6 194.9L564.5 195.2L565.4 195.5L566.2 195.8L567.1 196.1L568.0 196.3L568.8 196.6L569.7 196.9L570.6 197.2L571.4 197.5L572.3 197.8L573.2 198.1L574.0 198.4L574.9 198.6L575.5 198.9M607.9 209.8L608.6 210.0L609.4 210.3L610.3 210.6L611.1 210.9L612.0 211.2L612.9 211.5L613.7 211.8L614.6 212.1L615.5 212.4L616.3 212.7L617.2 213.0L618.0 213.3L618.9 213.6L619.8 213.9L620.6 214.2L621.5 214.4L622.4 214.7L623.2 215.0L624.1 215.3L624.9 215.6L625.8 215.9L626.7 216.2L627.5 216.5L628.4 216.8L629.3 217.1L629.9 217.3M661.3 228.2L662.0 228.4L662.8 228.7L663.7 229.0L664.6 229.3L665.4 229.6L666.3 229.9L667.1 230.3L668.0 230.6L668.8 230.9L669.7 231.2L670.5 231.5L671.4 231.8L672.3 232.1L673.1 232.4L674.0 232.7L674.8 233.1L675.7 233.4L676.5 233.7L677.4 234.0L678.2 234.3L679.1 234.6L680.0 235.0L680.8 235.3L681.7 235.6L682.5 235.9L683.1 236.2M714.2 248.2L714.8 248.4L715.7 248.8L716.5 249.1L717.3 249.4L718.2 249.8L719.0 250.1L719.9 250.4L720.7 250.8L721.6 251.1L722.4 251.4L723.3 251.8L724.1 252.1L725.0 252.4L725.8 252.8L726.7 253.1L727.5 253.4L728.4 253.8L729.2 254.1L730.1 254.4L730.9 254.8L731.8 255.1L732.6 255.4L733.5 255.8L734.3 256.1L735.1 256.5L735.8 256.7M767.5 269.4L768.1 269.6L769.0 270.0L769.8 270.3L770.7 270.7L771.5 271.0L772.4 271.3L773.2 271.7L774.1 272.0L774.9 272.4L775.7 272.7L776.6 273.1L777.4 273.4L778.3 273.7L779.1 274.1L780.0 274.4L780.8 274.8L781.6 275.1L782.5 275.5L783.3 275.8L784.2 276.2L785.0 276.5L785.9 276.9L786.7 277.2L787.5 277.6L788.4 277.9L789.0 278.2M820.5 291.5L821.1 291.8L822.0 292.1L822.8 292.5L823.6 292.8L824.5 293.2L825.3 293.6L826.1 293.9L827.0 294.3L827.8 294.7L828.6 295.0L829.5 295.4L830.3 295.7L831.1 296.1L832.0 296.5L832.8 296.8L833.7 297.2L834.5 297.6L835.3 297.9L836.2 298.3L837.0 298.7L837.8 299.0L838.7 299.4L839.5 299.8L840.3 300.1L841.2 300.5L841.8 300.8M872.1 314.4L872.7 314.7L873.6 315.1L874.4 315.5L875.2 315.8L876.1 316.2L876.9 316.6L877.7 317.0L878.5 317.4L879.4 317.8L880.2 318.1L881.0 318.5L881.8 318.9L882.7 319.3L883.5 319.7L884.3 320.1L885.1 320.4L886.0 320.8L886.8 321.2L887.6 321.6L888.5 322.0L889.3 322.4L890.1 322.7L890.9 323.1L891.8 323.5L892.6 323.9L893.2 324.2M923.2 338.5L923.8 338.8L924.7 339.2L925.5 339.6L926.3 340.0L927.1 340.4L927.9 340.8L928.8 341.2L929.6 341.6L930.4 342.0L931.2 342.4L932.0 342.8L932.8 343.2L933.7 343.6L934.5 344.0L935.3 344.4L936.1 344.8L936.9 345.2L937.8 345.6L938.6 346.0L939.4 346.4L940.2 346.8L941.0 347.2L941.9 347.6L942.7 348.0L943.5 348.4L944.1 348.7M973.9 363.5L974.5 363.8L975.3 364.2L976.1 364.6L977.0 365.0L977.8 365.4L978.6 365.8L979.4 366.2L980.2 366.6L981.0 367.0L981.8 367.5L982.7 367.9L983.5 368.3L984.3 368.7L985.1 369.1L985.9 369.5L986.7 369.9L987.5 370.3L988.3 370.7L989.2 371.2L990.0 371.6L990.8 372.0L991.6 372.4L992.4 372.8L993.2 373.2L994.0 373.6L994.6 373.9M1024.2 389.3L1024.8 389.6L1025.6 390.0L1026.4 390.4L1027.2 390.9L1028.0 391.3L1028.8 391.7L1029.6 392.1L1030.4 392.6L1031.2 393.0L1032.0 393.4L1032.8 393.9L1033.6 394.3L1034.4 394.7L1035.2 395.1L1036.0 395.6L1036.8 396.0L1037.6 396.4L1038.4 396.9L1039.2 397.3L1040.0 397.7L1040.8 398.2L1041.6 398.6L1042.4 399.0L1043.2 399.5L1044.0 399.9L1044.6 400.2M1074.5 416.8L1075.1 417.2L1075.9 417.6L1076.7 418.1L1077.5 418.5L1078.3 419.0L1079.1 419.4L1079.9 419.9L1080.7 420.3L1081.4 420.8L1082.2 421.2L1083.0 421.7L1083.8 422.1L1084.6 422.6L1085.4 423.0L1086.2 423.5L1087.0 423.9L1087.8 424.4L1088.6 424.8L1089.4 425.3L1090.1 425.7L1090.9 426.2L1091.7 426.6L1092.5 427.1L1093.3 427.5L1094.1 428.0L1094.7 428.3M1124.3 445.5L1124.9 445.8L1125.6 446.3L1126.4 446.7L1127.2 447.2L1128.0 447.6L1128.8 448.1L1129.6 448.5L1130.4 449.0L1131.2 449.5L1132.0 449.9L1132.7 450.4L1133.5 450.8L1134.3 451.3L1135.1 451.7L1135.9 452.2L1136.7 452.6L1137.5 453.1L1138.3 453.6L1139.1 454.0L1139.8 454.5L1140.6 454.9L1141.4 455.4L1142.2 455.8L1143.0 456.3L1143.8 456.7L1144.4 457.1M1174.0 474.2L1174.5 474.6L1175.3 475.0L1176.1 475.5L1176.9 475.9L1177.7 476.4L1178.5 476.9L1179.3 477.3L1180.0 477.8L1180.8 478.3L1181.6 478.7L1182.4 479.2L1183.2 479.6L1184.0 480.1L1184.7 480.6L1185.5 481.0L1186.3 481.5L1187.1 482.0L1187.9 482.4L1188.7 482.9L1189.4 483.4L1190.2 483.8L1191.0 484.3L1191.8 484.8L1192.6 485.3L1193.3 485.7L1193.9 486.1M1222.4 503.3L1223.0 503.6L1223.8 504.1L1224.5 504.6L1225.3 505.1L1226.1 505.5L1226.9 506.0L1227.7 506.5L1228.4 506.9L1229.2 507.4L1230.0 507.9L1230.8 508.3L1231.6 508.8L1232.3 509.3L1233.1 509.7L1233.9 510.2L1234.7 510.7L1235.5 511.1L1236.3 511.6L1237.0 512.1L1237.8 512.5L1238.6 513.0L1239.4 513.5L1240.2 513.9L1241.0 514.4L1241.8 514.8L1242.3 515.2M1271.8 532.6L1272.3 532.9L1273.1 533.4L1273.9 533.9L1274.7 534.3L1275.5 534.8L1276.3 535.3L1277.0 535.7L1277.8 536.2L1278.6 536.7L1279.4 537.2L1280.2 537.6L1280.9 538.1L1281.7 538.6L1282.5 539.0L1283.3 539.5L1284.0 540.0L1284.8 540.5L1285.6 540.9L1286.4 541.4L1287.2 541.9L1287.9 542.4L1288.7 542.8L1289.5 543.3L1290.3 543.8L1291.0 544.3L1291.6 544.6M1319.8 562.3L1320.4 562.7L1321.1 563.2L1321.9 563.7L1322.7 564.2L1323.4 564.6L1324.2 565.1L1325.0 565.6L1325.7 566.1L1326.5 566.6L1327.3 567.1L1328.1 567.6L1328.8 568.1L1329.6 568.5L1330.4 569.0L1331.1 569.5L1331.9 570.0L1332.7 570.5L1333.5 571.0L1334.2 571.5L1335.0 571.9L1335.8 572.4L1336.5 572.9L1337.3 573.4L1338.1 573.9L1338.9 574.4L1339.4 574.7M1368.3 593.0L1368.9 593.4L1369.6 593.9L1370.4 594.4L1371.2 594.8L1371.9 595.3L1372.7 595.8L1373.5 596.3L1374.2 596.8L1375.0 597.3L1375.8 597.8L1376.5 598.3L1377.3 598.8L1378.1 599.3L1378.8 599.8L1379.6 600.3L1380.4 600.8L1381.1 601.3L1381.9 601.8L1382.6 602.3L1383.4 602.8L1384.2 603.3L1384.9 603.8L1385.7 604.3L1386.4 604.8L1387.2 605.3L1387.7 605.7M1415.1 624.6L1415.7 625.0L1416.4 625.6L1417.1 626.1L1417.9 626.6L1418.6 627.2L1419.3 627.7L1420.1 628.3L1420.8 628.8L1421.5 629.3L1422.3 629.9L1423.0 630.4L1423.7 631.0L1424.5 631.5L1425.2 632.1L1425.9 632.6L1426.7 633.2L1427.4 633.7L1428.1 634.3L1428.8 634.8L1429.6 635.4L1430.3 635.9L1431.0 636.5L1431.7 637.0L1432.4 637.6L1433.2 638.2L1433.7 638.6M1459.9 660.6L1460.3 661.1L1461.0 661.7L1461.7 662.3L1462.4 662.9L1463.0 663.5L1463.7 664.2L1464.4 664.8L1465.0 665.4L1465.7 666.1L1466.3 666.7L1467.0 667.3L1467.6 668.0L1468.3 668.6L1469.0 669.2L1469.6 669.9L1470.3 670.5L1470.9 671.2L1471.5 671.8L1472.2 672.5L1472.8 673.1L1473.5 673.8L1474.1 674.4L1474.7 675.1L1475.4 675.7L1476.0 676.4L1476.4 676.9M1497.9 702.4L1498.3 703.0L1498.8 703.7L1499.3 704.5L1499.9 705.2L1500.4 706.0L1500.9 706.7L1501.4 707.5L1501.9 708.2L1502.4 709.0L1502.9 709.7L1503.4 710.5L1503.9 711.2L1504.4 712.0L1504.9 712.8L1505.4 713.5L1505.9 714.3L1506.4 715.1L1506.9 715.9L1507.3 716.6L1507.8 717.4L1508.3 718.2L1508.7 719.0L1509.2 719.8L1509.7 720.6L1510.1 721.3L1510.5 721.9M1526.0 754.5L1526.2 755.1L1526.6 755.9L1526.9 756.8L1527.2 757.7L1527.6 758.5L1527.9 759.4L1528.2 760.2L1528.6 761.1L1528.9 761.9L1529.2 762.8L1529.5 763.7L1529.8 764.5L1530.1 765.4L1530.4 766.2L1530.8 767.1L1531.1 768.0L1531.4 768.8L1531.7 769.7L1532.0 770.6L1532.3 771.4L1532.6 772.3L1532.9 773.2L1533.1 774.0L1533.4 774.9L1533.7 775.8L1533.9 776.3M1542.4 804.8L1542.5 805.5L1542.8 806.4L1543.0 807.3L1543.3 808.1L1543.5 809.0L1543.7 809.9L1543.9 810.8L1544.2 811.6L1544.4 812.5L1544.6 813.4L1544.9 814.3L1545.1 815.1L1545.3 816.0L1548.2 827.2M1558.6 841.0L1558.6 864.0" stroke="#00ff00"/>
<path d="M1553.5 861.3V883" stroke="#00ff00" stroke-width="13.6"/>
<path d="M1557.8 891.8V920.5" stroke="#00ff00"/><circle cx="1557.8" cy="891.8" r="4.45" fill="#00ff00" stroke="none"/>
<path d="M302.6 118.2L304.6 108.8" stroke="#00ff00" stroke-width="2.2"/>
<path d="M320.3 317.6L331.4 321.0L332.3 321.3L333.1 321.5L334.0 321.8L334.8 322.1L335.7 322.3L336.6 322.6L337.4 322.9L338.3 323.1L339.2 323.4L340.0 323.7L340.9 324.0L341.7 324.2L342.5 324.5M374.5 334.8L375.2 335.0L376.1 335.3L376.9 335.6L377.8 335.9L378.6 336.2L379.5 336.5L380.4 336.7L381.2 337.0L382.1 337.3L382.9 337.6L383.8 337.9L384.6 338.2L385.5 338.5L386.3 338.8L387.2 339.0L388.1 339.3L388.9 339.6L389.8 339.9L390.6 340.2L391.5 340.5L392.3 340.8L393.2 341.1L394.0 341.4L394.9 341.6L395.8 341.9L396.5 342.2M428.2 353.3L429.0 353.6L429.8 353.9L430.7 354.2L431.5 354.5L432.4 354.8L433.2 355.1L434.1 355.4L434.9 355.7L435.8 356.0L436.6 356.3L437.5 356.6L438.3 356.9L439.1 357.2L440.0 357.6L440.8 357.9L441.7 358.2L442.5 358.5L443.4 358.8L444.2 359.1L445.1 359.4L445.9 359.7L446.8 360.0L447.6 360.4L448.5 360.7L449.3 361.0L450.0 361.2M482.3 373.5L483.1 373.7L483.9 374.1L484.8 374.4L485.6 374.7L486.4 375.0L487.3 375.4L488.1 375.7L489.0 376.0L489.8 376.3L490.6 376.7L491.5 377.0L492.3 377.3L493.2 377.6L494.0 378.0L494.9 378.3L495.7 378.6L496.5 378.9L497.4 379.3L498.2 379.6L499.1 379.9L499.9 380.3L500.7 380.6L501.6 380.9L502.4 381.2L503.3 381.6L504.0 381.8M535.2 394.3L535.9 394.6L536.8 395.0L537.6 395.3L538.4 395.6L539.3 396.0L540.1 396.3L540.9 396.7L541.8 397.0L542.6 397.4L543.4 397.7L544.3 398.1L545.1 398.4L545.9 398.8L546.8 399.1L547.6 399.5L548.4 399.8L549.3 400.2L550.1 400.5L550.9 400.9L551.8 401.2L552.6 401.6L553.4 401.9L554.3 402.3L555.1 402.6L555.9 403.0L556.6 403.3M587.4 416.9L588.1 417.2L588.9 417.6L589.8 417.9L590.6 418.3L591.4 418.7L592.2 419.1L593.0 419.4L593.9 419.8L594.7 420.2L595.5 420.5L596.3 420.9L597.1 421.3L598.0 421.7L598.8 422.1L599.6 422.4L600.4 422.8L601.2 423.2L602.1 423.6L602.9 423.9L603.7 424.3L604.5 424.7L605.3 425.1L606.2 425.5L607.0 425.8L607.8 426.2L608.5 426.5M638.1 440.5L638.8 440.9L639.6 441.3L640.4 441.6L641.2 442.0L642.0 442.4L642.9 442.8L643.7 443.2L644.5 443.6L645.3 444.0L646.1 444.4L646.9 444.8L647.7 445.2L648.5 445.6L649.4 446.0L650.2 446.4L651.0 446.8L651.8 447.2L652.6 447.6L653.4 447.9L654.2 448.3L655.0 448.7L655.8 449.1L656.7 449.5L657.5 449.9L658.3 450.3L659.0 450.7M689.0 465.8L689.7 466.1L690.5 466.5L691.3 466.9L692.1 467.4L692.9 467.8L693.7 468.2L694.5 468.6L695.3 469.0L696.1 469.4L696.9 469.9L697.7 470.3L698.5 470.7L699.3 471.1L700.1 471.5L700.9 471.9L701.7 472.4L702.5 472.8L703.3 473.2L704.1 473.6L704.9 474.1L705.7 474.5L706.5 474.9L707.3 475.3L708.1 475.7L708.9 476.2L709.6 476.5M739.9 493.0L740.6 493.4L741.4 493.9L742.2 494.3L743.0 494.7L743.8 495.2L744.6 495.6L745.3 496.0L746.1 496.5L746.9 496.9L747.7 497.3L748.5 497.8L749.3 498.2L750.1 498.7L750.9 499.1L751.7 499.5L752.5 500.0L753.2 500.4L754.0 500.8L754.8 501.3L755.6 501.7L756.4 502.2L757.2 502.6L758.0 503.0L758.8 503.5L759.6 503.9L760.2 504.3M789.5 520.9L790.1 521.3L790.9 521.8L791.7 522.2L792.5 522.7L793.2 523.1L794.0 523.6L794.8 524.1L795.6 524.5L796.3 525.0L797.1 525.5L797.9 525.9L798.7 526.4L799.4 526.8L800.2 527.3L801.0 527.8L801.8 528.2L802.5 528.7L803.3 529.2L804.1 529.7L804.8 530.1L805.6 530.6L806.4 531.1L807.1 531.5L807.9 532.0L808.7 532.5L809.3 532.9M837.7 551.0L838.3 551.4L839.1 551.9L839.9 552.4L840.6 552.9L841.4 553.4L842.1 553.9L842.9 554.4L843.6 554.9L844.4 555.4L845.2 555.8L845.9 556.3L846.7 556.8L847.4 557.3L848.2 557.8L848.9 558.3L849.7 558.8L850.5 559.3L851.2 559.8L852.0 560.3L852.7 560.8L853.5 561.3L854.2 561.7L855.0 562.2L855.8 562.7L856.5 563.2L857.2 563.6M885.3 582.1L885.9 582.5L886.7 583.0L887.4 583.5L888.2 584.0L888.9 584.5L889.7 585.0L890.4 585.5L891.2 586.0L891.9 586.5L892.7 587.0L893.4 587.5L894.2 588.0L894.9 588.5L895.7 589.1L896.4 589.6L897.2 590.1L897.9 590.6L898.7 591.1L899.4 591.6L900.1 592.1L900.9 592.6L901.6 593.1L902.4 593.6L903.1 594.1L903.9 594.7L904.5 595.1M932.7 615.1L933.3 615.5L934.0 616.1L934.8 616.6L935.5 617.1L936.2 617.7L936.9 618.2L937.7 618.7L938.4 619.3L939.1 619.8L939.8 620.4L940.6 620.9L941.3 621.4L942.0 622.0L942.7 622.5L943.5 623.0L944.2 623.6L944.9 624.1L945.6 624.7L946.4 625.2L947.1 625.7L947.8 626.3L948.5 626.8L949.2 627.4L950.0 627.9L950.7 628.5L951.3 628.9M977.2 649.0L977.8 649.5L978.5 650.0L979.2 650.6L979.9 651.2L980.6 651.7L981.3 652.3L982.0 652.9L982.7 653.4L983.4 654.0L984.1 654.5L984.8 655.1L985.5 655.7L986.2 656.2L986.9 656.8L987.6 657.4L988.3 657.9L989.0 658.5L989.7 659.1L990.4 659.6L991.1 660.2L991.8 660.8L992.5 661.3L993.2 661.9L993.9 662.5L994.6 663.1L995.2 663.5M1021.1 685.0L1021.7 685.5L1022.4 686.1L1023.1 686.7L1023.8 687.3L1024.5 687.9L1025.2 688.5L1025.8 689.0L1026.5 689.6L1027.2 690.2L1027.9 690.8L1028.6 691.4L1029.3 692.0L1030.0 692.6L1030.6 693.2L1031.3 693.7L1032.0 694.3L1032.7 694.9L1033.4 695.5L1034.0 696.1L1034.7 696.7L1035.4 697.3L1036.1 697.9L1036.8 698.5L1037.5 699.1L1038.1 699.7L1038.7 700.2M1064.4 723.3L1065.0 723.8L1065.6 724.4L1066.3 725.0L1066.9 725.7L1067.6 726.3L1068.3 726.9L1068.9 727.5L1069.6 728.1L1070.2 728.8L1070.9 729.4L1071.5 730.0L1072.2 730.6L1072.8 731.2L1073.5 731.9L1074.1 732.5L1074.8 733.1L1075.5 733.7L1076.1 734.4L1076.8 735.0L1077.4 735.6L1078.1 736.2L1078.7 736.9L1079.3 737.5L1080.0 738.1L1080.6 738.7L1081.2 739.3M1104.9 763.1L1105.5 763.7L1106.1 764.3L1106.7 765.0L1107.3 765.7L1108.0 766.3L1108.6 767.0L1109.2 767.6L1109.8 768.3L1110.4 768.9L1111.1 769.6L1111.7 770.2L1112.3 770.9L1112.9 771.5L1113.6 772.2L1114.2 772.8L1114.8 773.5L1115.4 774.2L1116.0 774.8L1116.6 775.5L1117.3 776.1L1117.9 776.8L1118.5 777.5L1119.1 778.1L1119.7 778.8L1120.3 779.4L1120.9 780.0M1142.6 804.5L1143.1 805.1L1143.7 805.8L1144.3 806.5L1144.8 807.2L1145.4 807.9L1146.0 808.5L1146.6 809.2L1147.1 809.9L1147.7 810.6L1148.3 811.3L1148.9 812.0L1149.4 812.7L1150.0 813.4L1150.6 814.1L1151.1 814.8L1151.7 815.6L1152.2 816.3L1152.8 817.0L1153.4 817.7L1153.9 818.4L1154.5 819.1L1155.0 819.8L1155.6 820.5L1156.1 821.2L1156.7 821.9L1157.2 822.6M1177.2 850.7L1177.6 851.4L1178.1 852.1L1178.6 852.9L1179.1 853.6L1179.6 854.4L1180.1 855.2L1180.6 855.9L1181.0 856.7L1181.5 857.5L1182.0 858.2L1182.5 859.0L1183.0 859.7L1183.4 860.5L1183.9 861.3L1184.4 862.0L1184.9 862.8L1185.3 863.6L1185.8 864.4L1186.3 865.1L1186.7 865.9L1187.2 866.7L1187.7 867.4L1188.1 868.2L1188.6 869.0L1189.1 869.8L1189.5 870.4M1205.5 900.0L1205.8 900.7L1206.2 901.5L1206.6 902.3L1207.0 903.2L1207.4 904.0L1207.8 904.8L1208.2 905.6L1208.6 906.4L1209.0 907.2L1209.4 908.0L1209.7 908.9L1210.1 909.7L1210.5 910.5L1215.1 920.5" stroke="#ff0000"/>
<path d="M326.0 524.6L336.4 529.7L337.2 530.1L337.9 530.5L338.7 530.9L339.5 531.2L340.3 531.6L341.0 532.0L341.8 532.4L342.6 532.8L343.4 533.2L344.1 533.6L344.9 534.0L345.7 534.4L346.4 534.8L346.8 534.9M376.6 550.8L376.9 551.0L377.7 551.4L378.5 551.8L379.2 552.3L380.0 552.7L380.7 553.1L381.5 553.5L382.2 553.9L383.0 554.4L383.7 554.8L384.5 555.2L385.2 555.6L386.0 556.1L386.7 556.5L387.5 556.9L388.3 557.3L389.0 557.8L389.8 558.2L390.5 558.6L391.3 559.0L392.0 559.5L392.8 559.9L393.5 560.3L394.3 560.7L395.0 561.2L395.8 561.6L396.5 562.0L396.8 562.2M425.3 578.8L425.6 579.0L426.4 579.4L427.1 579.9L427.9 580.3L428.6 580.8L429.3 581.2L430.1 581.6L430.8 582.1L431.6 582.5L432.3 583.0L433.1 583.4L433.8 583.8L434.6 584.3L435.3 584.7L436.0 585.2L436.8 585.6L437.5 586.0L438.3 586.5L439.0 586.9L439.8 587.4L440.5 587.8L441.2 588.3L442.0 588.7L442.7 589.1L443.5 589.6L444.2 590.0L445.0 590.5L445.3 590.6M474.2 608.2L474.5 608.4L475.3 608.8L476.0 609.3L476.7 609.7L477.5 610.2L478.2 610.6L478.9 611.1L479.7 611.6L480.4 612.0L481.1 612.5L481.8 612.9L482.6 613.4L483.3 613.9L484.0 614.3L484.8 614.8L485.5 615.2L486.2 615.7L487.0 616.2L487.7 616.6L488.4 617.1L489.1 617.6L489.9 618.0L490.6 618.5L491.3 619.0L492.1 619.4L492.8 619.9L493.5 620.4L493.8 620.6M521.9 639.4L522.2 639.6L522.9 640.1L523.6 640.6L524.3 641.1L525.0 641.6L525.8 642.1L526.5 642.6L527.2 643.1L527.9 643.6L528.6 644.1L529.3 644.6L530.0 645.1L530.7 645.6L531.4 646.1L532.1 646.6L532.8 647.1L533.5 647.6L534.2 648.1L534.9 648.6L535.6 649.2L536.3 649.7L537.0 650.2L537.7 650.7L538.4 651.2L539.1 651.7L539.8 652.2L540.5 652.7L540.8 652.9M567.7 673.5L567.9 673.7L568.6 674.2L569.3 674.8L570.0 675.3L570.7 675.8L571.3 676.4L572.0 676.9L572.7 677.5L573.4 678.0L574.0 678.5L574.7 679.1L575.4 679.6L576.1 680.2L576.7 680.7L577.4 681.2L578.1 681.8L578.7 682.3L579.4 682.9L580.1 683.4L580.8 684.0L581.4 684.5L582.1 685.1L582.8 685.6L583.4 686.2L584.1 686.7L584.8 687.2L585.4 687.8L585.7 688.0M611.4 710.1L611.7 710.3L612.3 710.9L613.0 711.5L613.6 712.1L614.2 712.6L614.9 713.2L615.5 713.8L616.1 714.4L616.8 715.0L617.4 715.6L618.0 716.2L618.7 716.8L619.3 717.3L619.9 717.9L620.6 718.5L621.2 719.1L621.8 719.7L622.4 720.3L623.1 720.9L623.7 721.5L624.3 722.1L624.9 722.7L625.5 723.3L626.2 723.9L626.8 724.5L627.4 725.1L628.0 725.7L628.3 726.0M651.6 750.5L651.9 750.8L652.4 751.4L653.0 752.1L653.6 752.7L654.1 753.4L654.7 754.0L655.3 754.7L655.9 755.3L656.4 756.0L657.0 756.6L657.6 757.3L658.1 757.9L658.7 758.6L659.3 759.2L659.8 759.9L660.4 760.5L661.0 761.2L661.5 761.9L662.1 762.5L662.6 763.2L663.2 763.8L663.7 764.5L664.3 765.2L664.9 765.8L665.4 766.5L666.0 767.2L666.5 767.8L666.7 768.1M687.7 795.8L687.9 796.1L688.4 796.8L688.9 797.5L689.3 798.3L689.8 799.0L690.3 799.7L690.8 800.4L691.3 801.1L691.7 801.8L692.2 802.6L692.7 803.3L693.1 804.0L693.6 804.8L694.1 805.5L694.5 806.2L695.0 806.9L695.5 807.7L695.9 808.4L696.4 809.1L696.8 809.9L697.3 810.6L697.7 811.4L698.2 812.1L698.6 812.8L699.0 813.6L699.5 814.3L699.9 815.1L700.1 815.4M715.8 845.4L715.9 845.7L716.3 846.5L716.6 847.3L717.0 848.1L717.3 848.9L717.7 849.7L718.1 850.5L718.4 851.3L718.8 852.1L719.1 852.8L719.5 853.6L719.8 854.4L720.2 855.2L720.5 856.0L720.8 856.8L721.2 857.6L721.5 858.4L721.9 859.2L722.2 860.0L722.5 860.8L722.9 861.6L723.2 862.4L723.5 863.2L723.8 864.0L724.2 864.8L724.5 865.6L724.8 866.4L724.9 866.7M736.2 897.7L736.3 898.1L736.6 898.9L736.8 899.8L737.1 900.6L737.4 901.4L737.6 902.2L737.9 903.0L738.2 903.9L738.4 904.7L738.7 905.5L738.9 906.3L739.2 907.2L739.4 908.0L739.7 908.8L743.1 919.9" stroke="#0000ff"/>
</g>
<rect x="298.30" y="59.30" width="1265.30" height="861.20" fill="none" stroke="#000" stroke-width="3.3"/>
<g font-family='"Liberation Sans", Arial, Helvetica, sans-serif' font-size="59.0" fill="#000">
<text transform="translate(266.0 159.3) scale(0.9780 1)" text-anchor="end">10</text>
<text transform="translate(266.0 420.2) scale(0.9780 1)" text-anchor="end">1</text>
<text transform="translate(266.0 681.1) scale(0.9780 1)" text-anchor="end">0.1</text>
<text transform="translate(266.0 942.0) scale(0.9780 1)" text-anchor="end">0.01</text>
<text transform="translate(399.7 999.4) scale(0.9780 1)" text-anchor="middle">10<tspan font-size="47.2" dy="-21.0">-6</tspan></text>
<text transform="translate(593.7 999.4) scale(0.9780 1)" text-anchor="middle">10<tspan font-size="47.2" dy="-21.0">-5</tspan></text>
<text transform="translate(787.7 999.4) scale(0.9780 1)" text-anchor="middle">10<tspan font-size="47.2" dy="-21.0">-4</tspan></text>
<text transform="translate(981.7 999.4) scale(0.9780 1)" text-anchor="middle">10<tspan font-size="47.2" dy="-21.0">-3</tspan></text>
<text transform="translate(1175.6 999.4) scale(0.9780 1)" text-anchor="middle">10<tspan font-size="47.2" dy="-21.0">-2</tspan></text>
<text transform="translate(1369.6 999.4) scale(0.9780 1)" text-anchor="middle">10<tspan font-size="47.2" dy="-21.0">-1</tspan></text>
<text transform="translate(1563.6 999.4) scale(0.9780 1)" text-anchor="middle">10<tspan font-size="47.2" dy="-21.0">0</tspan></text>
<text transform="translate(930.6 1085.8) scale(0.9780 1)" text-anchor="middle">x</text>
<text transform="translate(75.9 489.8) rotate(-90) scale(0.9506 1)" text-anchor="middle">F(x,k<tspan font-size="47.2" dy="-21.0">2</tspan><tspan dy="21.0">)</tspan></text>
<text transform="translate(1318.0 131.8) scale(0.9780 1)" text-anchor="end">k<tspan font-size="47.2" dy="-21.0">2</tspan><tspan dy="26.7"> =</tspan><tspan dy="-5.7"> 1 GeV</tspan><tspan font-size="47.2" dy="-21.0">2</tspan></text>
<text transform="translate(1318.0 189.2) scale(0.9780 1)" text-anchor="end">k<tspan font-size="47.2" dy="-21.0">2</tspan><tspan dy="26.7"> =</tspan><tspan dy="-5.7"> 5 GeV</tspan><tspan font-size="47.2" dy="-21.0">2</tspan></text>
<text transform="translate(1318.0 246.5) scale(0.9780 1)" text-anchor="end">k<tspan font-size="47.2" dy="-21.0">2</tspan><tspan dy="26.7"> =</tspan><tspan dy="-5.7"> 25 GeV</tspan><tspan font-size="47.2" dy="-21.0">2</tspan></text>
<text transform="translate(1318.0 303.9) scale(0.9780 1)" text-anchor="end">k<tspan font-size="47.2" dy="-21.0">2</tspan><tspan dy="26.7"> =</tspan><tspan dy="-5.7"> 125 GeV</tspan><tspan font-size="47.2" dy="-21.0">2</tspan></text>
</g>
<path d="M1349 110.5H1500" stroke="#ff7f50" stroke-width="8.9" fill="none"/>
<path d="M1349 167.9H1500" stroke="#00ff00" stroke-width="8.9" fill="none"/>
<path d="M1349 225.3H1500" stroke="#ff0000" stroke-width="8.9" fill="none"/>
<path d="M1349 282.4H1500" stroke="#0000ff" stroke-width="8.9" fill="none"/>
</svg>
</body></html>
